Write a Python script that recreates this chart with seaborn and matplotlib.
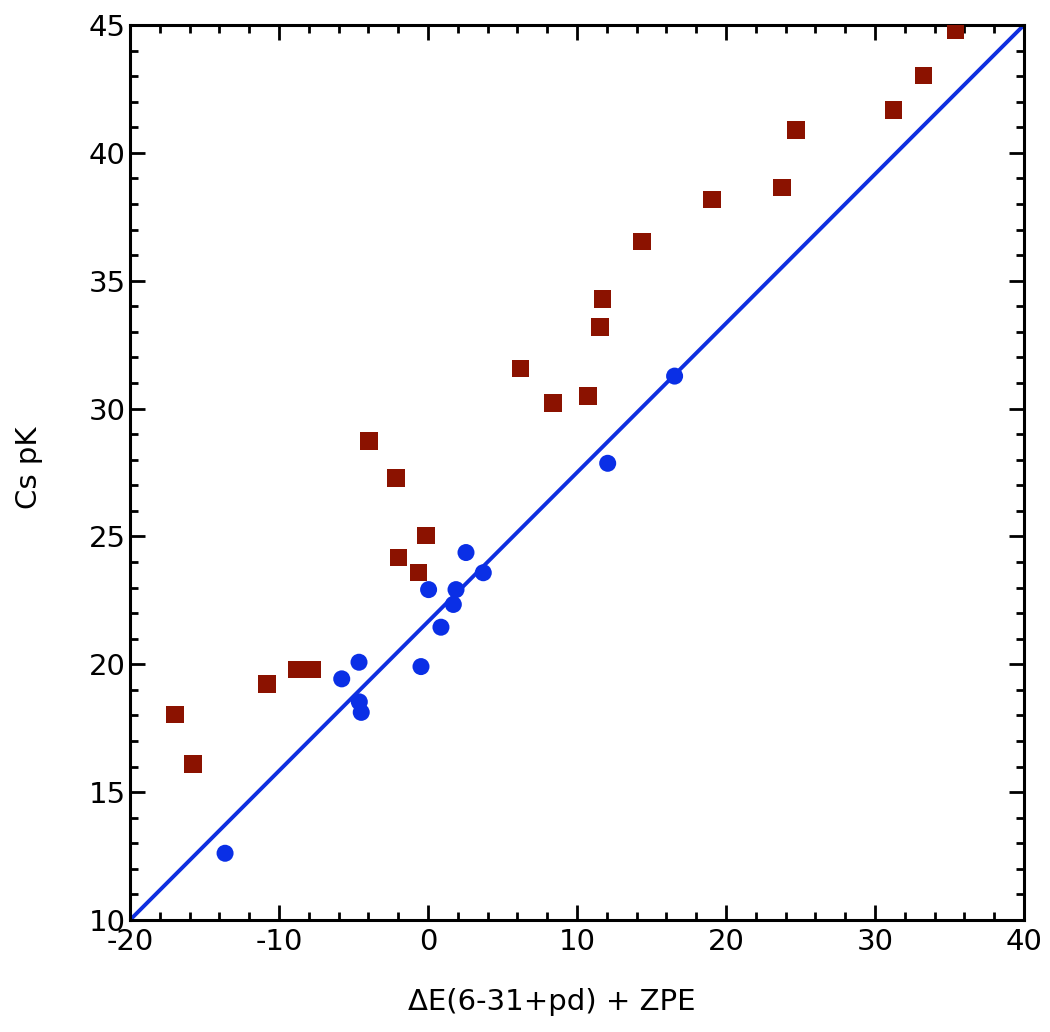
import numpy as np
import pandas as pd
import seaborn as sns
import matplotlib.pyplot as plt
from matplotlib.ticker import MultipleLocator

# Squares (red series)
sq_x = [-16.98, -15.79, -10.81, -8.79, -7.79, -3.96, -2.13, -1.97, -0.63, -0.13,
        6.22, 8.39, 10.72, 11.54, 11.72, 14.38, 19.06, 23.74, 24.70, 31.23, 33.25, 35.41]
sq_y = [18.04, 16.10, 19.22, 19.80, 19.80, 28.74, 27.29, 24.17, 23.59, 25.04,
        31.56, 30.21, 30.49, 33.20, 34.28, 36.53, 38.17, 38.65, 40.90, 41.68, 43.03, 44.78]

# Circles (blue series)
ci_x = [-13.62, -5.79, -4.63, -4.61, -4.48, -0.47, 0.04, 0.87, 1.70, 1.88, 2.55, 3.71, 12.06, 16.55]
ci_y = [12.61, 19.43, 20.08, 18.53, 18.12, 19.91, 22.92, 21.45, 22.34, 22.92, 24.37, 23.58, 27.86, 31.27]

# Reference line
fit_x = [-20, 40]
fit_y = [10, 45]

df_sq = pd.DataFrame({'x': sq_x, 'y': sq_y})
df_ci = pd.DataFrame({'x': ci_x, 'y': ci_y})
df_fit = pd.DataFrame({'x': fit_x, 'y': fit_y})

sns.set_style("ticks")
plt.rcParams['font.family'] = ['DejaVu Sans']
plt.rcParams['axes.unicode_minus'] = False

fig = plt.figure(figsize=(10.5, 10.32), dpi=100)
ax = fig.add_axes([130 / 1050, 1 - 920 / 1032, 894 / 1050, 895 / 1032])

# Line first, markers on top
sns.lineplot(data=df_fit, x='x', y='y', ax=ax, color='#0F2FE0', linewidth=2.8, zorder=2)
sns.scatterplot(data=df_sq, x='x', y='y', ax=ax, marker='s', s=160, color='#8B1200',
                edgecolor='none', linewidth=0, zorder=3)
sns.scatterplot(data=df_ci, x='x', y='y', ax=ax, marker='o', s=150, color='#0A2FE6',
                edgecolor='none', linewidth=0, zorder=4)

ax.set_xlim(-20, 40)
ax.set_ylim(10, 45)
ax.xaxis.set_major_locator(MultipleLocator(10))
ax.xaxis.set_minor_locator(MultipleLocator(2))
ax.yaxis.set_major_locator(MultipleLocator(5))
ax.yaxis.set_minor_locator(MultipleLocator(1))

for spine in ax.spines.values():
    spine.set_visible(True)
    spine.set_linewidth(2.2)
    spine.set_color('black')

ax.tick_params(which='both', direction='in', top=True, right=True, colors='black',
               labelcolor='black')
ax.tick_params(which='major', length=11, width=2, labelsize=21)
ax.tick_params(axis='y', which='major', pad=3)
ax.tick_params(axis='x', which='major', pad=6)
ax.tick_params(which='minor', length=5.5, width=2)

ax.set_xlabel('ΔE(6-31+pd) + ZPE', fontsize=21, color='black', va='center')
ax.set_ylabel('Cs pK', fontsize=21, color='black', va='center')
ax.xaxis.set_label_coords(0.472, -0.0916)
ax.yaxis.set_label_coords(-0.113, 0.505)

fig.savefig('out.png', dpi=100)
